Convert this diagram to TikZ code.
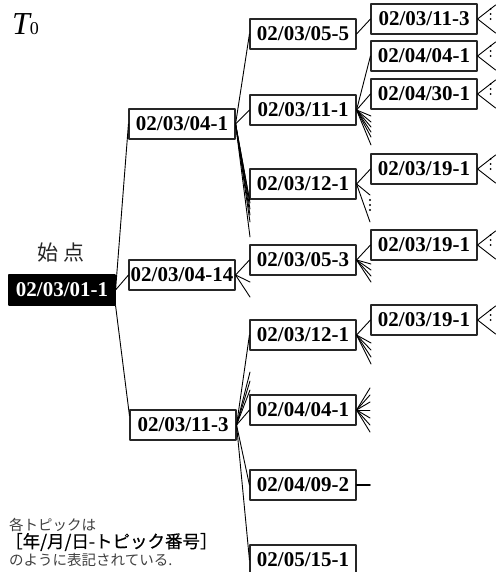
\documentclass[tikz,border=0pt]{standalone}
\usepackage{fontspec}
\setmainfont{Liberation Serif}
\newfontfamily\jpfont{Noto Sans CJK JP}
\newfontfamily\jpfontb[FakeBold=0.6]{Noto Sans CJK JP}
\begin{document}
\begin{tikzpicture}[x=1pt, y=-1pt, line join=round, line cap=round,
  topic/.style={draw=black!85, line width=1.1pt, fill=white, minimum width=106pt, minimum height=30pt, inner sep=0pt, font=\fontsize{21}{21}\selectfont\bfseries},
  start/.style={topic, draw=black, fill=black, text=white},
  edge/.style={line width=0.9pt},
  dots/.style={line width=2.1pt, dash pattern=on 0pt off 5pt, line cap=round}]
\useasboundingbox (0,0) rectangle (496,572);
% topics
\node[start] (R) at (62,290) {02/03/01-1};
\foreach \n/\x/\y/\t in {A1/182/124/{02/03/04-1},A2/182/275/{02/03/04-14},A3/183/425/{02/03/11-3},
  B1/303/34/{02/03/05-5},B2/303/110/{02/03/11-1},B3/303/184/{02/03/12-1},B4/303/260/{02/03/05-3},
  B5/303/335/{02/03/12-1},B6/303/410/{02/04/04-1},B7/303/485/{02/04/09-2},B8/303/560/{02/05/15-1},
  C1/424/19/{02/03/11-3},C2/424/56/{02/04/04-1},C3/424/94/{02/04/30-1},
  C4/424/169/{02/03/19-1},C5/424/245/{02/03/19-1},C6/424/320/{02/03/19-1}}
\node[topic] (\n) at (\x,\y) {\t};
% links
\draw[edge] (R.east) -- (A1.west) (R.east) -- (A2.west) (R.south east) -- (A3.170);
\draw[edge] (A1.east) -- (B3.south west);
\foreach \a/\b in {A1/B1,A1/B2,A2/B4,A3/B5,A3/B6,A3/B7,A3/B8,B1/C1,B2/C2,B2/C3,B3/C4,B4/C5,B5/C6}
\draw[edge] (\a.east) -- (\b.west);
% short links
\foreach \y [count=\i] in {203,209,215,222,237} {\coordinate (A1s\i) at (250,\y); \draw[edge] (A1.east) -- (A1s\i);}
\foreach \y [count=\i] in {282,297} {\coordinate (A2s\i) at (250,\y); \draw[edge] (A2.east) -- (A2s\i);}
\foreach \y [count=\i] in {372,381,390} {\coordinate (A3s\i) at (250,\y); \draw[edge] (A3.east) -- (A3s\i);}
\foreach \y [count=\i] in {116,122,127,132,137,145} {\coordinate (B2s\i) at (371,\y); \draw[edge] (B2.east) -- (B2s\i);}
\foreach \y [count=\i] in {195,222} {\coordinate (B3s\i) at (370,\y); \draw[edge] (B3.east) -- (B3s\i);}
\foreach \y [count=\i] in {264,270,276,282} {\coordinate (B4s\i) at (371,\y); \draw[edge] (B4.east) -- (B4s\i);}
\foreach \y [count=\i] in {343,350,357,364} {\coordinate (B5s\i) at (371,\y); \draw[edge] (B5.east) -- (B5s\i);}
\foreach \y [count=\i] in {388,395,402,410,418,425,432} {\coordinate (B6s\i) at (370,\y); \draw[edge] (B6.east) -- (B6s\i);}
\coordinate (B7s) at (370,485); \draw[line width=1.8pt] (B7.east) -- (B7s);
\coordinate (B3d1) at (370,200); \coordinate (B3d2) at (370,211); \draw[dots] (B3d1) -- (B3d2);
\foreach \n in {C1,C2,C3,C4,C5,C6} {
  \coordinate (\n-u) at ([shift={(18,-14)}]\n.east);
  \coordinate (\n-d) at ([shift={(18,14)}]\n.east);
  \draw[edge] (\n-u) -- (\n.east) -- (\n-d);
  \draw[dots] ([shift={(13,-10)}]\n.east) -- ([shift={(13,1)}]\n.east);
}
% texts
\node[anchor=base west, inner sep=0pt] (T) at (12,35) {{\fontsize{32}{32}\selectfont\itshape T}{\fontsize{18}{18}\selectfont 0}};
\node[font=\jpfont\fontsize{21}{21}\selectfont, text=black!85] (S) at (61,253) {始\hspace{5pt}点};
\node[anchor=west, inner sep=0pt, font=\jpfont\fontsize{14.5}{14.5}\selectfont, text=black!75] (L1) at (9,525) {各トピックは};
\node[anchor=west, inner sep=0pt, font=\jpfontb\fontsize{17.5}{17.5}\selectfont] (L2) at (5,542) {［年/月/日-トピック番号］};
\node[anchor=west, inner sep=0pt, font=\jpfont\fontsize{14.5}{14.5}\selectfont, text=black!75] (L3) at (9,560) {のように表記されている.};
\end{tikzpicture}
\end{document}
